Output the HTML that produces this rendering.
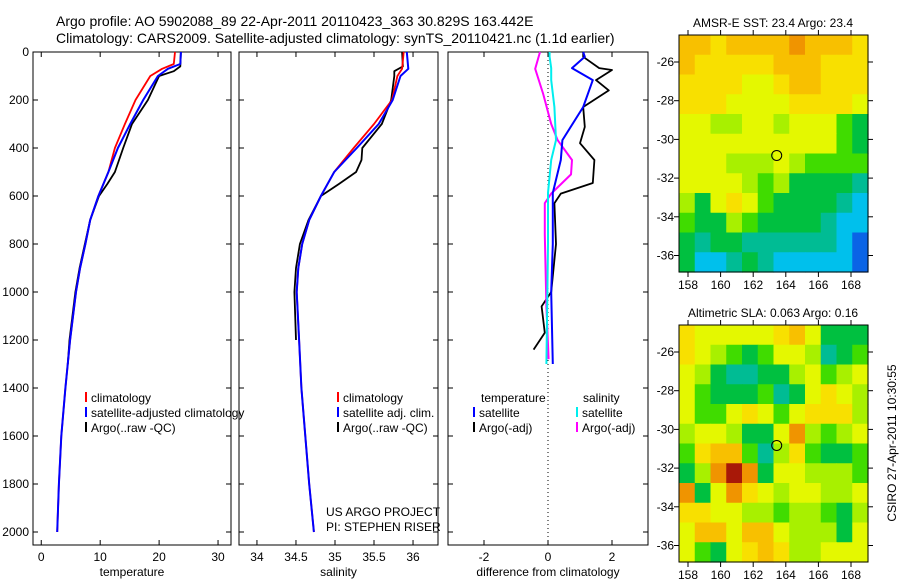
<!DOCTYPE html>
<html><head><meta charset="utf-8"><style>
body{margin:0;background:#fff;font-family:"Liberation Sans",sans-serif}
svg text{font-family:"Liberation Sans",sans-serif;font-size:12px;fill:#000}
</style></head><body>
<svg id="fig" width="900" height="580" xmlns="http://www.w3.org/2000/svg">
<text x="56" y="26" style="font-size:14px">Argo profile: AO 5902088_89 22-Apr-2011 20110423_363 30.829S 163.442E</text>
<text x="56" y="43" style="font-size:14px">Climatology: CARS2009. Satellite-adjusted climatology: synTS_20110421.nc (1.1d earlier)</text>
<g id="g"></g>
</svg>
<script>
// ---- data ----
const tDepth=[0,50,70,100,200,300,400,500,600,700,800,900,1000,1200,1400,1600,1800,2000];
const tClim=[22.7,22.5,20.5,18.5,16,14.2,12.5,11.4,9.7,8.3,7.5,6.6,5.9,4.9,4.1,3.4,3.0,2.7];
const tSat=[23.7,23.6,21.5,19.8,17.3,15.1,13,11.4,9.7,8.3,7.5,6.6,5.9,4.9,4.1,3.4,3.0,2.7];
const tArgoDepth=[0,60,80,100,200,300,400,500,550,600,700,800,900,1000,1200,1300];
const tArgo=[23.7,23.6,22.5,20,18.1,15.4,13.9,12.5,11.2,9.8,8.3,7.4,6.5,5.8,4.8,4.5];
const sDepth=[0,70,100,200,300,400,500,600,700,800,900,1000,1200,1400,1600,1800,2000];
const sClim=[35.88,35.86,35.8,35.73,35.5,35.24,34.99,34.82,34.67,34.58,34.53,34.51,34.54,34.57,34.62,34.67,34.73];
const sSat=[35.92,35.94,35.84,35.74,35.56,35.28,34.99,34.82,34.67,34.58,34.53,34.51,34.54,34.57,34.62,34.67,34.73];
const sArgoDepth=[0,60,80,100,200,300,400,450,500,550,600,700,800,900,1000,1100,1200];
const sArgo=[35.86,35.87,35.76,35.76,35.72,35.6,35.35,35.34,35.27,35.05,34.82,34.66,34.55,34.5,34.48,34.49,34.5];
const dDepth=[0,20,67,75,117,160,229,312,380,450,546,590,630,800,1000,1060,1170,1240];
const dArgoT=[1.1,1.1,1.6,2.0,1.5,1.9,1.1,1.15,1.0,1.45,1.4,0.4,0.2,0.25,0.1,-0.2,-0.1,-0.45];
const dSatDepth=[0,20,67,117,229,367,450,587,800,1000,1300];
const dSatT=[1.1,1.15,0.75,1.4,1.1,0.45,0.4,0.15,0.15,0.1,0.15];
const dSatS=[0.05,0.05,0.1,0.1,0.2,0.25,0.1,0.0,0.0,-0.02,-0.05];
const dArgoSDepth=[0,70,175,300,367,450,510,590,630,760,1060,1280];
const dArgoS=[-0.25,-0.4,-0.15,0.1,0.3,0.75,0.72,0.1,-0.1,-0.1,-0.05,0.02];
const depthTicks=[0,200,400,600,800,1000,1200,1400,1600,1800,2000];
const tTicks=[0,10,20,30];
const sTicks=[34,34.5,35,35.5,36];
const dTicks=[-2,0,2];
const lonTicks=[158,160,162,164,166,168];
const latTicks=[-26,-28,-30,-32,-34,-36];
const palette=['#0a64e6','#00c0ec','#00bc94','#00c040','#40dc00','#a8f000','#e4f800','#f8e000','#f8c000','#f09400','#d05a10','#a81808'];
const sstGrid=[
[8,8,7,8,8,8,8,9,8,8,8,7],
[8,7,7,7,7,7,8,8,8,7,7,7],
[7,7,7,7,6,6,7,8,8,7,7,7],
[7,7,7,6,6,6,6,7,7,7,7,6],
[6,6,5,5,6,6,5,6,6,6,4,3],
[6,6,6,6,6,6,6,6,6,6,4,3],
[6,6,6,5,5,5,6,5,4,4,4,4],
[6,6,6,6,5,4,5,3,3,3,3,2],
[5,3,6,7,6,4,3,3,3,3,2,1],
[4,3,3,5,4,3,3,3,3,2,1,1],
[3,2,3,3,2,2,2,2,2,2,1,0],
[3,1,1,2,3,2,1,1,1,1,1,0]];
const slaGrid=[
[7,6,6,6,6,6,7,8,6,3,3,3],
[7,6,5,4,3,4,6,6,5,2,3,4],
[6,5,3,2,2,3,3,5,6,4,5,6],
[6,4,3,3,3,4,2,3,6,7,6,5],
[6,4,4,6,7,6,4,6,7,7,7,5],
[5,6,6,5,3,3,6,9,5,4,5,6],
[4,7,8,8,4,2,5,7,4,3,3,4],
[3,5,9,11,9,3,6,6,5,5,5,4],
[9,3,6,9,7,6,5,6,6,5,5,6],
[7,7,6,6,5,5,4,5,5,4,3,5],
[6,8,8,6,8,8,6,5,5,5,3,6],
[6,4,3,6,7,8,7,5,5,6,6,6]];
const argoLon=163.442, argoLat=-30.829;

// ---- helpers ----
const NS='http://www.w3.org/2000/svg';const G=document.getElementById('g');
function el(t,a,p){const e=document.createElementNS(NS,t);for(const k in a)e.setAttribute(k,a[k]);(p||G).appendChild(e);return e;}
function txt(x,y,s,anchor,extra){const e=el('text',Object.assign({x:x,y:y,'text-anchor':anchor||'start'},extra||{}));e.textContent=s;return e;}
const Y=d=>52+d*0.24;
const panels=[
 {x0:33,x1:231,v0:-1.4,v1:32.2,ticks:tTicks,label:'temperature',name:'temperature'},
 {x0:239,x1:438,v0:33.77,v1:36.32,ticks:sTicks,label:'salinity',name:'salinity'},
 {x0:448,x1:648,v0:-3.125,v1:3.125,ticks:dTicks,label:'difference from climatology',name:'difference'}];
panels.forEach(p=>{p.X=v=>p.x0+(v-p.v0)/(p.v1-p.v0)*(p.x1-p.x0);});
function axesFrame(p,i){
 const r=el('rect',{x:p.x0,y:52,width:p.x1-p.x0,height:493,fill:'none',stroke:'#000'});
 
 p.ticks.forEach(v=>{const x=p.X(v);el('line',{x1:x,x2:x,y1:52,y2:57,stroke:'#000'});el('line',{x1:x,x2:x,y1:545,y2:540,stroke:'#000'});
  const t=txt(x,561,String(v),'middle');});
 depthTicks.forEach(d=>{const y=Y(d);el('line',{x1:p.x0,x2:p.x0+5,y1:y,y2:y,stroke:'#000'});el('line',{x1:p.x1,x2:p.x1-5,y1:y,y2:y,stroke:'#000'});
  if(i===0){const t=txt(29,y+4,String(d),'end');}});
 const l=txt((p.x0+p.x1)/2,576,p.label,'middle');
}
function line(p,ds,vs,color,w,name){
 const pts=ds.map((d,k)=>p.X(vs[k]).toFixed(1)+','+Y(d).toFixed(1)).join(' ');
 const e=el('polyline',{points:pts,fill:'none',stroke:color,'stroke-width':w,'stroke-linejoin':'round'});
 
}
panels.forEach(axesFrame);
const P0=panels[0],P1=panels[1],P2=panels[2];
line(P0,tArgoDepth,tArgo,'#000',1.8,'temp-argo-line');
line(P0,tDepth,tClim,'#f00',1.8,'temp-climatology-line');
line(P0,tDepth,tSat,'#00f',2,'temp-satellite-line');
line(P1,sArgoDepth,sArgo,'#000',1.8,'sal-argo-line');
line(P1,sDepth,sClim,'#f00',1.8,'sal-climatology-line');
line(P1,sDepth,sSat,'#00f',2,'sal-satellite-line');
const zl=el('line',{x1:P2.X(0),x2:P2.X(0),y1:52,y2:545,stroke:'#000','stroke-dasharray':'1,3'});

line(P2,dDepth,dArgoT,'#000',1.8,'diff-argo-temp-line');
line(P2,dArgoSDepth,dArgoS,'#f0f',2,'diff-argo-sal-line');
line(P2,dSatDepth,dSatT,'#00f',2,'diff-sat-temp-line');
line(P2,dSatDepth,dSatS,'#0ee',2,'diff-sat-sal-line');
// legends
function leg(x,y,c,s,name){const m=el('line',{x1:x,x2:x,y1:y-10,y2:y,stroke:c,'stroke-width':2});
 const t=txt(x+5,y,s);}
leg(86,402,'#f00','climatology','legend-climatology');
leg(86,417,'#00f','satellite-adjusted climatology','legend-satellite');
leg(86,432,'#000','Argo(..raw -QC)','legend-argo');
leg(338,402,'#f00','climatology','legend2-climatology');
leg(338,417,'#00f','satellite adj. clim.','legend2-satellite');
leg(338,432,'#000','Argo(..raw -QC)','legend2-argo');
let t=txt(481,402,'temperature');
t=txt(583,402,'salinity');
leg(474,417,'#00f','satellite','legend3-temp-satellite');
leg(474,432,'#000','Argo(-adj)','legend3-temp-argo');
leg(577,417,'#0ee','satellite','legend3-sal-satellite');
leg(577,432,'#f0f','Argo(-adj)','legend3-sal-argo');
t=txt(326,516,'US ARGO PROJECT');
t=txt(326,531,'PI: STEPHEN RISER');
// maps
function map(y0,grid,title,name){
 const x0=679,x1=868,y1=y0+237;
 const LX=v=>688+(v-158)*16.3, LY=v=>(y0+27)+(-26-v)*19.35;
 const rows=grid.length,cols=grid[0].length,cw=(x1-x0)/cols,ch=(y1-y0)/rows;
 grid.forEach((row,r)=>row.forEach((v,c)=>{const e=el('rect',{x:(x0+c*cw).toFixed(2),y:(y0+r*ch).toFixed(2),width:(cw+0.6).toFixed(2),height:(ch+0.6).toFixed(2),fill:palette[v]});
  }));
 const f=el('rect',{x:x0,y:y0,width:x1-x0,height:y1-y0,fill:'none',stroke:'#000'});
 lonTicks.forEach(v=>{const x=LX(v);el('line',{x1:x,x2:x,y1:y0,y2:y0-5,stroke:'#000'});el('line',{x1:x,x2:x,y1:y1,y2:y1+5,stroke:'#000'});
  const t=txt(x,y1+17,String(v),'middle');});
 latTicks.forEach(v=>{const y=LY(v);el('line',{x1:x0,x2:x0-5,y1:y,y2:y,stroke:'#000'});el('line',{x1:x1,x2:x1+5,y1:y,y2:y,stroke:'#000'});
  const t=txt(674,y+4,String(v),'end');});
 const c=el('circle',{cx:LX(argoLon),cy:LY(argoLat),r:5,fill:'none',stroke:'#000'});
 const tt=txt(773,y0-8,title,'middle');
}
map(35,sstGrid,'AMSR-E SST: 23.4 Argo: 23.4','sst-map');
map(325,slaGrid,'Altimetric SLA: 0.063 Argo: 0.16','sla-map');
t=txt(0,0,'CSIRO 27-Apr-2011 10:30:55','middle',{transform:'translate(896,443) rotate(-90)'});

</script>
</body></html>
